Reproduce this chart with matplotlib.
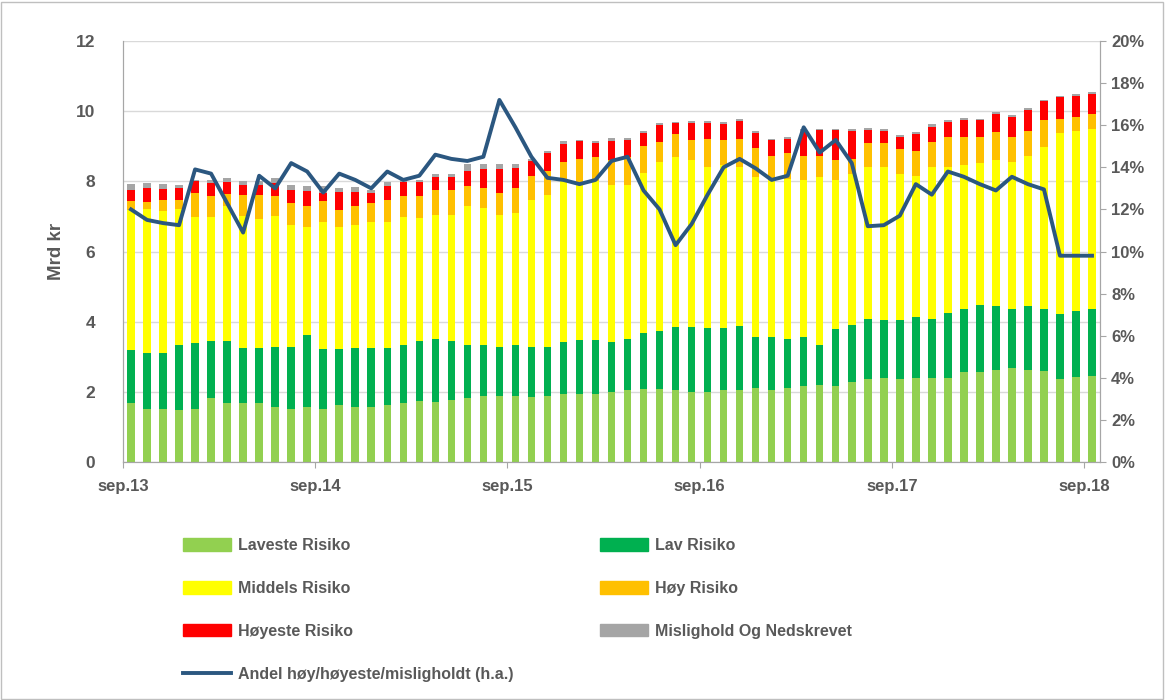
import numpy as np
import matplotlib.pyplot as plt
from matplotlib.patches import Rectangle
from matplotlib.lines import Line2D

plt.rcParams['font.family'] = ['Liberation Sans', 'DejaVu Sans']

# Månedlige data sep.13 - sep.18 (Mrd kr)
tick_labels = ['sep.13', 'sep.14', 'sep.15', 'sep.16', 'sep.17', 'sep.18']

laveste = [1.67, 1.52, 1.52, 1.48, 1.52, 1.83, 1.67, 1.67, 1.67, 1.57, 1.52, 1.57, 1.52, 1.62, 1.57,
           1.57, 1.62, 1.67, 1.73, 1.71, 1.78, 1.83, 1.88, 1.88, 1.88, 1.85, 1.88, 1.93, 1.93, 1.93,
           2.00, 2.05, 2.07, 2.07, 2.05, 2.00, 2.00, 2.05, 2.05, 2.10, 2.05, 2.10, 2.17, 2.19, 2.17,
           2.29, 2.38, 2.40, 2.36, 2.40, 2.40, 2.40, 2.57, 2.57, 2.62, 2.67, 2.62, 2.60, 2.38, 2.43,
           2.45]
lav = [1.52, 1.59, 1.59, 1.85, 1.86, 1.63, 1.79, 1.57, 1.57, 1.72, 1.77, 2.05, 1.69, 1.59, 1.67,
       1.67, 1.62, 1.66, 1.73, 1.79, 1.68, 1.50, 1.45, 1.41, 1.45, 1.44, 1.41, 1.50, 1.55, 1.55,
       1.43, 1.47, 1.62, 1.67, 1.80, 1.85, 1.81, 1.76, 1.83, 1.45, 1.50, 1.40, 1.38, 1.14, 1.61,
       1.61, 1.71, 1.65, 1.69, 1.72, 1.67, 1.85, 1.78, 1.90, 1.82, 1.68, 1.82, 1.75, 1.84, 1.88,
       1.90]
middels = [4.00, 4.09, 4.04, 3.87, 3.60, 3.52, 3.83, 3.76, 3.68, 3.73, 3.47, 3.09, 3.63, 3.50, 3.52,
           3.60, 3.60, 3.65, 3.49, 3.53, 3.57, 3.96, 3.91, 3.74, 3.77, 4.17, 4.31, 4.60, 4.47, 4.52,
           4.46, 4.37, 4.55, 4.82, 4.83, 4.75, 4.61, 4.65, 4.53, 4.58, 4.48, 4.58, 4.50, 4.80, 4.25,
           4.32, 4.32, 4.36, 4.15, 4.03, 4.33, 4.16, 4.11, 4.04, 4.18, 4.21, 4.28, 4.63, 5.16, 5.13,
           5.13]
hoy = [0.24, 0.20, 0.31, 0.26, 0.69, 0.61, 0.35, 0.60, 0.68, 0.57, 0.62, 0.60, 0.59, 0.48, 0.53,
       0.54, 0.62, 0.61, 0.64, 0.73, 0.73, 0.57, 0.57, 0.64, 0.71, 0.70, 0.69, 0.52, 0.68, 0.68,
       0.71, 0.81, 0.76, 0.57, 0.66, 0.59, 0.78, 0.71, 0.81, 0.81, 0.69, 0.73, 0.67, 0.59, 0.57,
       0.43, 0.67, 0.67, 0.71, 0.72, 0.73, 0.84, 0.79, 0.74, 0.79, 0.69, 0.72, 0.76, 0.41, 0.38,
       0.43]
hoyeste = [0.33, 0.40, 0.32, 0.34, 0.33, 0.36, 0.33, 0.30, 0.30, 0.36, 0.38, 0.42, 0.24, 0.51, 0.42,
           0.29, 0.40, 0.38, 0.38, 0.35, 0.35, 0.44, 0.54, 0.68, 0.57, 0.41, 0.52, 0.50, 0.51, 0.42,
           0.55, 0.47, 0.38, 0.47, 0.31, 0.47, 0.45, 0.45, 0.50, 0.44, 0.45, 0.41, 0.70, 0.73, 0.85,
           0.78, 0.39, 0.35, 0.36, 0.49, 0.42, 0.45, 0.50, 0.49, 0.52, 0.59, 0.59, 0.54, 0.60, 0.60,
           0.58]
mislighold = [0.16, 0.15, 0.14, 0.10, 0.05, 0.10, 0.13, 0.10, 0.10, 0.15, 0.14, 0.13, 0.19, 0.11, 0.12,
              0.09, 0.11, 0.08, 0.08, 0.11, 0.11, 0.18, 0.15, 0.15, 0.10, 0.08, 0.05, 0.10, 0.05, 0.04,
              0.08, 0.07, 0.06, 0.07, 0.05, 0.06, 0.06, 0.08, 0.07, 0.06, 0.05, 0.05, 0.06, 0.05, 0.05,
              0.05, 0.05, 0.05, 0.05, 0.05, 0.07, 0.06, 0.06, 0.05, 0.05, 0.05, 0.05, 0.05, 0.05, 0.06,
              0.06]
# Andel høy/høyeste/misligholdt (%), høyre akse
andel = [12.0, 11.5, 11.35, 11.25, 13.9, 13.7, 12.3, 10.9, 13.6, 13.0, 14.2, 13.8, 12.8, 13.7, 13.4,
         13.0, 13.8, 13.4, 13.6, 14.6, 14.4, 14.3, 14.5, 17.2, 15.9, 14.5, 13.5, 13.4, 13.2, 13.4,
         14.3, 14.5, 12.9, 12.0, 10.3, 11.3, 12.7, 14.0, 14.4, 13.95, 13.4, 13.6, 15.9, 14.7, 15.3,
         14.2, 11.2, 11.25, 11.7, 13.2, 12.7, 13.8, 13.55, 13.2, 12.9, 13.55, 13.2, 12.95, 9.8, 9.8,
         9.8]

serier = [laveste, lav, middels, hoy, hoyeste, mislighold]
navn = ['Laveste Risiko', 'Lav Risiko', 'Middels Risiko', 'Høy Risiko',
        'Høyeste Risiko', 'Mislighold Og Nedskrevet']
farger = ['#92D050', '#00B050', '#FFFF00', '#FFC000', '#FF0000', '#A5A5A5']
linjefarge = '#2B5780'
gra = '#595959'

x = np.arange(len(laveste))

fig = plt.figure(figsize=(11.65, 7), dpi=100)
ax = fig.add_axes([123/1165, 1-462/700, 977/1165, 421/700])

bunn = np.zeros(len(x))
for s, f in zip(serier, farger):
    ax.bar(x, s, bottom=bunn, width=0.47, color=f, zorder=2)
    bunn += np.array(s)

ax.set_xlim(-0.5, len(x) - 0.5)
ax.set_ylim(0, 12)
ax.set_yticks(range(0, 13, 2))
ax.grid(axis='y', color='#D9D9D9', lw=1, zorder=0)
ax.set_axisbelow(True)
ax.set_xticks(np.arange(len(tick_labels)) * 12 - 0.5)
ax.set_xticklabels(tick_labels)
ax.tick_params(axis='x', length=4, color='#A6A6A6', labelsize=12, labelcolor=gra, pad=8)
ax.tick_params(axis='y', length=0, labelsize=12.5, labelcolor=gra, pad=20)
for t in ax.get_xticklabels() + ax.get_yticklabels():
    t.set_fontweight('bold')
ax.set_ylabel('Mrd kr', fontsize=13.5, fontweight='bold', color=gra, labelpad=8)

ax2 = ax.twinx()
ax2.plot(x, andel, color=linjefarge, lw=2.8, zorder=3)
ax2.set_ylim(0, 20)
ax2.set_yticks(range(0, 21, 2))
ax2.set_yticklabels(['{}%'.format(v) for v in range(0, 21, 2)])
ax2.tick_params(axis='y', length=4, color='#A6A6A6', labelsize=12, labelcolor=gra, pad=4)
for t in ax2.get_yticklabels():
    t.set_fontweight('bold')

for a in (ax, ax2):
    a.spines['top'].set_visible(False)
    for side in ('left', 'right', 'bottom'):
        a.spines[side].set_color('#A6A6A6')

# Tegnforklaring i to kolonner
handles = [Rectangle((0, 0), 1, 1, color=f) for f in farger]
linje = Line2D([0], [0], color=linjefarge, lw=2.8)
leg_kw = dict(frameon=False, handlelength=3.0, handleheight=0.8,
              handletextpad=0.45, labelspacing=1.75, borderpad=0, borderaxespad=0,
              labelcolor=gra, prop={'weight': 'bold', 'size': 11.5})
fig.legend([handles[0], handles[2], handles[4], linje],
           [navn[0], navn[2], navn[4], 'Andel høy/høyeste/misligholdt (h.a.)'],
           loc='upper left', bbox_to_anchor=(183/1165, 1-538/700), **leg_kw)
fig.legend([handles[1], handles[3], handles[5]],
           [navn[1], navn[3], navn[5]],
           loc='upper left', bbox_to_anchor=(600/1165, 1-538/700), **leg_kw)

fig.patches.append(Rectangle((0.001, 0.002), 0.997, 0.995, transform=fig.transFigure,
                             fill=False, edgecolor='#BFBFBF', lw=1))

fig.savefig('out.png', dpi=100)
